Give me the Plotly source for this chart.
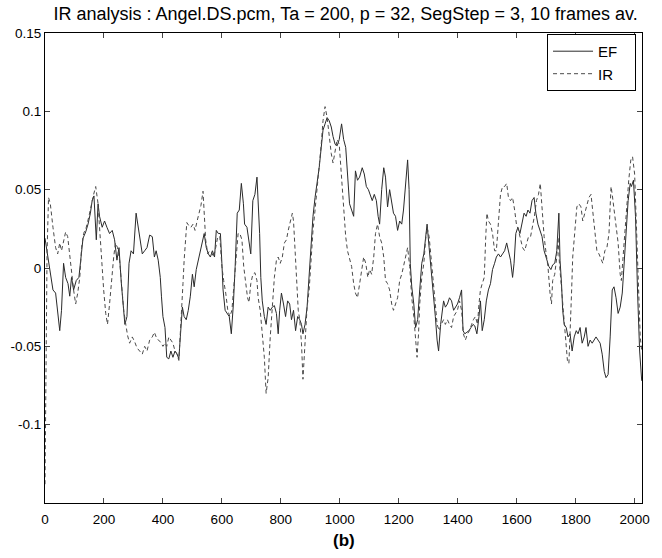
import plotly.graph_objects as go

# EF trace (solid)
ef_x = [0, 7, 16, 27, 36, 44, 50, 56, 63, 70, 78, 84, 90, 97, 106, 115, 122, 129, 138, 146,
        154, 160, 166, 174, 180, 185, 194, 202, 210, 219, 228, 236, 244, 251, 259, 264, 271, 278, 285, 292,
        300, 309, 316, 321, 330, 338, 346, 355, 364, 371, 377, 384, 391, 395, 400, 407, 413, 420, 427, 434,
        441, 448, 454, 459, 466, 472, 479, 486, 493, 500, 506, 513, 520, 527, 534, 540, 547, 554, 561, 568,
        575, 581, 588, 595, 600, 604, 611, 618, 625, 632, 639, 645, 652, 659, 666, 673, 677, 685, 694, 698,
        705, 712, 719, 723, 728, 732, 737, 744, 750, 757, 764, 771, 778, 785, 791, 796, 802, 809, 816, 823,
        830, 836, 843, 850, 857, 864, 870, 875, 882, 889, 896, 902, 909, 916, 923, 930, 937, 943, 950, 957,
        964, 971, 977, 984, 991, 998, 1006, 1013, 1020, 1026, 1033, 1040, 1047, 1053, 1060, 1067, 1076, 1083, 1090, 1097,
        1103, 1110, 1117, 1124, 1130, 1135, 1142, 1149, 1155, 1162, 1169, 1176, 1182, 1189, 1196, 1203, 1210, 1216, 1223, 1230,
        1235, 1239, 1244, 1251, 1257, 1264, 1271, 1278, 1285, 1291, 1296, 1303, 1310, 1317, 1324, 1330, 1335, 1342, 1352, 1358,
        1365, 1372, 1379, 1386, 1392, 1399, 1406, 1413, 1418, 1424, 1431, 1438, 1445, 1452, 1458, 1465, 1472, 1477, 1483, 1490,
        1497, 1504, 1511, 1518, 1525, 1531, 1538, 1545, 1552, 1559, 1566, 1572, 1579, 1586, 1591, 1597, 1604, 1611, 1618, 1625,
        1632, 1638, 1645, 1652, 1659, 1665, 1672, 1679, 1686, 1693, 1702, 1709, 1716, 1722, 1729, 1736, 1743, 1747, 1752, 1756,
        1761, 1768, 1774, 1781, 1788, 1795, 1802, 1808, 1815, 1822, 1829, 1835, 1842, 1849, 1856, 1863, 1869, 1876, 1883, 1890,
        1897, 1903, 1910, 1917, 1924, 1930, 1937, 1944, 1951, 1958, 1964, 1971, 1978, 1985, 1989, 1996, 2003, 2010, 2017, 2024]
ef_y = [0.019, 0.011, 0.0, -0.014, -0.016, -0.031, -0.040, -0.027, 0.003, -0.006, -0.010, -0.018, -0.006, -0.014, -0.008, -0.006, 0.005, 0.019, 0.023, 0.028,
        0.035, 0.043, 0.046, 0.018, 0.041, 0.033, 0.026, 0.030, 0.026, 0.022, 0.024, 0.018, 0.005, 0.013, -0.010, -0.023, -0.036, -0.031, 0.003, 0.011,
        0.009, 0.035, 0.026, 0.019, 0.009, 0.011, 0.013, 0.021, 0.020, 0.007, 0.011, 0.005, -0.006, -0.018, -0.031, -0.038, -0.057, -0.058, -0.053, -0.057,
        -0.053, -0.055, -0.058, -0.044, -0.025, -0.031, -0.033, -0.027, -0.018, -0.004, -0.012, -0.001, 0.005, 0.009, 0.016, 0.022, 0.013, 0.009, 0.007, 0.011,
        0.007, 0.024, 0.022, 0.022, 0.003, -0.014, -0.027, -0.029, -0.031, -0.042, -0.023, 0.001, 0.035, 0.037, 0.054, 0.041, 0.028, 0.026, 0.013, 0.009,
        0.043, 0.047, 0.058, 0.045, 0.022, -0.006, -0.021, -0.031, -0.036, -0.025, -0.027, -0.025, -0.024, -0.029, -0.042, -0.027, -0.016, -0.023, -0.031, -0.021,
        -0.023, -0.033, -0.027, -0.040, -0.031, -0.033, -0.036, -0.042, -0.036, -0.025, -0.006, 0.009, 0.033, 0.045, 0.054, 0.064, 0.077, 0.088, 0.092, 0.096,
        0.094, 0.090, 0.084, 0.079, 0.078, 0.082, 0.092, 0.082, 0.077, 0.058, 0.041, 0.037, 0.033, 0.062, 0.056, 0.058, 0.064, 0.060, 0.052, 0.050,
        0.047, 0.043, 0.047, 0.043, 0.033, 0.028, 0.050, 0.064, 0.058, 0.039, 0.050, 0.041, 0.035, 0.033, 0.024, 0.030, 0.028, 0.037, 0.056, 0.069,
        0.050, 0.003, -0.012, -0.023, -0.038, -0.033, -0.014, 0.003, 0.009, 0.022, 0.028, 0.013, -0.001, -0.019, -0.031, -0.046, -0.053, -0.036, -0.021, -0.025,
        -0.023, -0.019, -0.021, -0.027, -0.025, -0.023, -0.019, -0.014, -0.040, -0.042, -0.041, -0.040, -0.038, -0.036, -0.037, -0.042, -0.031, -0.021, -0.040, -0.033,
        -0.021, -0.014, -0.010, -0.001, 0.003, 0.007, 0.009, 0.007, 0.009, 0.011, 0.016, 0.011, 0.005, -0.006, 0.003, 0.022, 0.026, 0.022, 0.028, 0.035,
        0.033, 0.037, 0.035, 0.043, 0.045, 0.035, 0.028, 0.024, 0.020, 0.011, 0.005, 0.001, -0.001, 0.002, 0.003, 0.011, 0.035, 0.005, -0.010, -0.027,
        -0.036, -0.038, -0.044, -0.042, -0.053, -0.044, -0.040, -0.042, -0.038, -0.048, -0.044, -0.038, -0.050, -0.046, -0.048, -0.046, -0.044, -0.046, -0.048, -0.055,
        -0.066, -0.070, -0.068, -0.044, -0.014, -0.012, -0.019, -0.029, -0.025, -0.016, 0.001, 0.022, 0.043, 0.054, 0.052, 0.056, 0.033, -0.016, -0.053, -0.072]

# IR trace (dashed)
ir_x = [0, 3, 7, 12, 18, 27, 36, 43, 50, 56, 63, 70, 77, 84, 90, 97, 104, 111, 118, 124,
        131, 140, 149, 157, 165, 172, 180, 185, 192, 199, 206, 212, 219, 225, 233, 239, 246, 253, 260, 267,
        274, 280, 287, 296, 304, 312, 321, 330, 338, 346, 355, 364, 371, 377, 384, 391, 400, 407, 413, 420,
        427, 434, 441, 448, 454, 459, 464, 468, 472, 477, 481, 488, 495, 502, 509, 516, 522, 529, 536, 540,
        545, 552, 558, 565, 572, 579, 586, 593, 600, 606, 613, 620, 627, 634, 641, 648, 655, 661, 668, 674,
        680, 687, 692, 698, 705, 712, 719, 723, 730, 737, 744, 750, 757, 764, 771, 778, 785, 791, 798, 805,
        812, 819, 825, 832, 839, 843, 848, 853, 859, 864, 870, 875, 882, 889, 896, 902, 909, 916, 923, 930,
        937, 943, 950, 957, 964, 971, 977, 984, 991, 998, 1006, 1013, 1020, 1026, 1033, 1040, 1047, 1053, 1060, 1067,
        1074, 1081, 1088, 1095, 1101, 1108, 1115, 1121, 1128, 1135, 1142, 1149, 1155, 1162, 1169, 1176, 1182, 1189, 1196, 1203,
        1210, 1216, 1223, 1230, 1237, 1244, 1251, 1257, 1262, 1267, 1271, 1278, 1285, 1291, 1296, 1303, 1310, 1317, 1324, 1330,
        1337, 1344, 1352, 1358, 1365, 1372, 1379, 1386, 1392, 1399, 1406, 1413, 1419, 1426, 1433, 1440, 1447, 1453, 1460, 1467,
        1472, 1477, 1483, 1490, 1495, 1499, 1504, 1511, 1518, 1525, 1531, 1538, 1545, 1552, 1559, 1566, 1572, 1579, 1586, 1593,
        1599, 1606, 1613, 1620, 1627, 1633, 1640, 1647, 1654, 1660, 1667, 1674, 1680, 1686, 1693, 1700, 1706, 1713, 1718, 1722,
        1729, 1736, 1740, 1745, 1752, 1759, 1766, 1772, 1777, 1781, 1786, 1790, 1797, 1804, 1811, 1818, 1824, 1831, 1838, 1845,
        1852, 1858, 1865, 1872, 1879, 1886, 1892, 1899, 1906, 1913, 1920, 1924, 1930, 1937, 1944, 1951, 1955, 1960, 1966, 1973,
        1980, 1987, 1993, 2000, 2005, 2012, 2019, 2024]
ir_y = [-0.138, -0.05, 0.01, 0.045, 0.041, 0.026, 0.013, 0.009, 0.016, 0.011, 0.018, 0.023, 0.020, 0.007, -0.004, -0.014, -0.023, -0.016, -0.006, 0.013,
        0.022, 0.026, 0.033, 0.041, 0.047, 0.052, 0.041, 0.026, 0.005, -0.014, -0.029, -0.036, -0.023, -0.008, 0.007, 0.016, 0.013, 0.005, -0.014, -0.027,
        -0.036, -0.043, -0.048, -0.044, -0.047, -0.051, -0.053, -0.055, -0.050, -0.053, -0.046, -0.044, -0.041, -0.044, -0.046, -0.047, -0.050, -0.048, -0.050, -0.044,
        -0.046, -0.048, -0.053, -0.055, -0.059, -0.044, -0.025, -0.010, 0.005, 0.022, 0.029, 0.027, 0.026, 0.028, 0.024, 0.030, 0.034, 0.040, 0.049, 0.035,
        0.018, 0.009, 0.011, 0.010, 0.007, 0.013, 0.020, 0.020, 0.001, -0.008, -0.016, -0.027, -0.031, -0.027, -0.010, 0.005, 0.022, 0.022, 0.018, 0.001,
        -0.010, -0.019, -0.022, -0.010, -0.004, -0.003, -0.008, -0.019, -0.027, -0.042, -0.057, -0.080, -0.070, -0.044, -0.023, -0.006, 0.005, 0.007, 0.003, 0.007,
        0.016, 0.018, 0.024, 0.030, 0.035, 0.030, 0.013, -0.006, -0.027, -0.033, -0.048, -0.071, -0.048, -0.025, -0.014, 0.005, 0.024, 0.037, 0.050, 0.067,
        0.079, 0.094, 0.103, 0.096, 0.084, 0.073, 0.067, 0.075, 0.082, 0.079, 0.056, 0.033, 0.020, 0.011, 0.005, 0.001, -0.010, -0.016, -0.019, -0.010,
        -0.001, 0.007, 0.003, -0.006, -0.001, -0.004, 0.007, 0.022, 0.028, 0.020, 0.016, 0.007, -0.008, -0.010, -0.014, -0.023, -0.027, -0.023, -0.019, -0.008,
        -0.004, 0.001, 0.007, 0.013, 0.001, -0.019, -0.031, -0.044, -0.057, -0.042, -0.023, -0.006, 0.003, 0.018, 0.026, 0.020, 0.007, -0.010, -0.023, -0.036,
        -0.040, -0.036, -0.033, -0.036, -0.033, -0.036, -0.038, -0.031, -0.029, -0.027, -0.021, -0.027, -0.042, -0.046, -0.042, -0.040, -0.036, -0.033, -0.031, -0.036,
        -0.023, -0.014, -0.010, -0.006, 0.020, 0.035, 0.030, 0.028, 0.022, 0.011, 0.011, 0.030, 0.047, 0.052, 0.052, 0.054, 0.045, 0.043, 0.045, 0.037,
        0.028, 0.024, 0.018, 0.013, 0.011, 0.016, 0.020, 0.020, 0.026, 0.033, 0.043, 0.047, 0.054, 0.037, 0.020, 0.009, 0.001, -0.016, -0.023, -0.008,
        -0.004, 0.007, 0.020, 0.003, -0.014, -0.031, -0.044, -0.059, -0.061, -0.044, -0.016, 0.007, 0.024, 0.039, 0.041, 0.039, 0.030, 0.035, 0.041, 0.045,
        0.047, 0.035, 0.022, 0.011, 0.009, 0.005, 0.003, 0.011, 0.013, 0.022, 0.052, 0.047, 0.037, 0.026, 0.016, -0.004, -0.008, 0.005, 0.020, 0.043,
        0.056, 0.069, 0.071, 0.060, 0.033, -0.010, -0.044, -0.053]

x_ticks = [0, 200, 400, 600, 800, 1000, 1200, 1400, 1600, 1800, 2000]
y_ticks = [-0.1, -0.05, 0, 0.05, 0.1, 0.15]
y_labels = ["-0.1", "-0.05", "0", "0.05", "0.1", "0.15"]

font = "Liberation Sans, Arial, sans-serif"

fig = go.Figure()
fig.add_trace(go.Scatter(x=ef_x, y=ef_y, mode="lines", name="EF\u00a0\u00a0\u00a0",
                         line=dict(color="#2a2a2a", width=1)))
fig.add_trace(go.Scatter(x=ir_x, y=ir_y, mode="lines", name="IR\u00a0\u00a0\u00a0",
                         line=dict(color="#4a4a4a", width=1, dash="4px,3px")))

fig.update_layout(
    width=662, height=558,
    margin=dict(l=45, r=20, t=33, b=55),
    paper_bgcolor="white", plot_bgcolor="white",
    font=dict(family=font, size=13.5, color="black"),
    title=dict(text="IR analysis : Angel.DS.pcm, Ta = 200, p = 32, SegStep = 3, 10 frames av.",
               x=0.522, xanchor="center", yref="container", y=0.975, yanchor="middle",
               font=dict(size=18, color="black")),
    legend=dict(x=0.99, xanchor="right", y=0.998, yanchor="top",
                bordercolor="black", borderwidth=1, bgcolor="white",
                font=dict(size=15), itemwidth=40, tracegroupgap=0),
    showlegend=True,
)
fig.update_xaxes(range=[0, 2025], tickvals=x_ticks, ticks="inside", ticklen=5,
                 showline=True, linecolor="black", linewidth=1, mirror="ticks",
                 showgrid=False, zeroline=False, tickfont=dict(size=13.5),
                 ticklabelstandoff=4, automargin=False)
fig.update_yaxes(range=[-0.15, 0.15], tickvals=y_ticks, ticktext=y_labels, ticks="inside", ticklen=5,
                 showline=True, linecolor="black", linewidth=1, mirror="ticks",
                 showgrid=False, zeroline=False, tickfont=dict(size=13.5),
                 automargin=False)

fig.add_annotation(text="<b>(b)</b>", xref="paper", yref="paper", x=0.5, y=-0.079,
                   xanchor="center", yanchor="middle", showarrow=False,
                   font=dict(size=17, color="black"))

# drop the browser's default 8px body margin so the figure sits at the window corner
fig.write_html("out.html", config={"displayModeBar": False},
               post_script="document.body.style.margin='0';")
